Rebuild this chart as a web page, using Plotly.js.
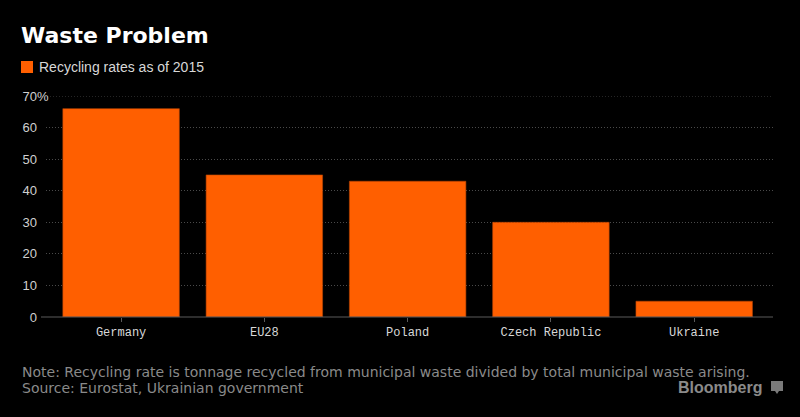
<!DOCTYPE html>
<html><head><meta charset="utf-8">
<script src="https://cdn.plot.ly/plotly-3.0.1.min.js"></script>
<style>html,body{margin:0;padding:0;background:#000}</style></head>
<body><div id="chart" style="width:800px;height:417px"></div>
<script>
const categories = ["Germany", "EU28", "Poland", "Czech Republic", "Ukraine"];
const recyclingRates = [66, 45, 43, 30, 5];
const seriesName = "Recycling rates as of 2015";
const yTickValues = [0, 10, 20, 30, 40, 50, 60, 70];
const yTickLabels = ["0", "10", "20", "30", "40", "50", "60", "70"];
const titleText = "Waste Problem";
const noteText = "Note: Recycling rate is tonnage recycled from municipal waste divided by total municipal waste arising.";
const sourceText = "Source: Eurostat, Ukrainian government";
const brandText = "Bloomberg";

const W = 800, H = 417, ML = 46, MR = 27, MT = 96, MB = 100;
const PW = W - ML - MR, PH = H - MT - MB;
const px = x => (x - ML) / PW;
const py = y => (H - MB - y) / PH;

const orange = "#ff5f00";
const trace = {
  type: "bar", x: categories, y: recyclingRates, name: seriesName,
  marker: {color: orange, line: {color: "#b84300", width: 0.6}},
  hoverinfo: "x+y", showlegend: false
};

const gridDash = "1px,2px";
const layout = {
  width: W, height: H,
  margin: {l: ML, r: MR, t: MT, b: MB, pad: 0},
  paper_bgcolor: "#000", plot_bgcolor: "#000",
  bargap: 0.187,
  title: {text: titleText, xref: "container", yref: "container", x: 21 / W, xanchor: "left",
          y: 1 - 28 / H, yanchor: "top",
          font: {family: "DejaVu Sans", size: 22, weight: 700, color: "#ffffff"}},
  xaxis: {
    type: "category", range: [-0.524, 4.55], showgrid: false, zeroline: false,
    showline: false, ticks: "outside", ticklen: 4, tickcolor: "#5a5a5a", tickwidth: 1,
    tickfont: {family: "Liberation Mono", size: 12, color: "#d8d8d8"}, fixedrange: true
  },
  yaxis: {
    range: [0, 70], tickvals: yTickValues, ticktext: yTickLabels,
    showgrid: true, gridcolor: "#4a4a4a", griddash: gridDash, gridwidth: 1,
    zeroline: false, showline: false, ticks: "",
    ticklabelstandoff: 8,
    tickfont: {family: "Liberation Sans", size: 13, color: "#d0d0d0"}, fixedrange: true
  },
  shapes: [
    {type: "line", xref: "paper", yref: "y", x0: px(47), x1: 1, y0: yTickValues[yTickValues.length - 1], y1: yTickValues[yTickValues.length - 1],
     line: {color: "#4a4a4a", width: 1, dash: gridDash}, layer: "below"},
    {type: "line", xref: "paper", yref: "paper", x0: px(41), x1: 1, y0: 0, y1: 0,
     line: {color: "#5a5a5a", width: 1}},
    {type: "rect", xref: "paper", yref: "paper", x0: px(21), x1: px(33), y0: py(73), y1: py(61),
     fillcolor: orange, line: {width: 0}},
    {type: "rect", xref: "paper", yref: "paper", x0: px(771), x1: px(783), y0: py(391), y1: py(381),
     fillcolor: "#7a7a7a", line: {width: 0}},
    {type: "path", xref: "paper", yref: "paper",
     path: `M ${px(775)} ${py(391)} L ${px(777)} ${py(394)} L ${px(779)} ${py(391)} Z`,
     fillcolor: "#7a7a7a", line: {width: 0}}
  ],
  annotations: [
    {xref: "paper", yref: "paper", x: px(37), y: py(67), xanchor: "left", yanchor: "middle",
     text: seriesName, showarrow: false, font: {family: "Liberation Sans", size: 14, color: "#d8d8d8"}},
    {xref: "paper", yref: "paper", x: px(35), y: 1, xanchor: "left", yanchor: "middle",
     text: "%", showarrow: false, font: {family: "Liberation Sans", size: 13, color: "#d0d0d0"}},
    {xref: "paper", yref: "paper", x: px(20), y: py(372), xanchor: "left", yanchor: "middle",
     text: noteText, showarrow: false, font: {family: "DejaVu Sans", size: 14, color: "#8a8a8a"}},
    {xref: "paper", yref: "paper", x: px(20), y: py(388), xanchor: "left", yanchor: "middle",
     text: sourceText, showarrow: false, font: {family: "DejaVu Sans", size: 14, color: "#8a8a8a"}},
    {xref: "paper", yref: "paper", x: px(764), y: py(387), xanchor: "right", yanchor: "middle",
     text: "<b>" + brandText + "</b>", showarrow: false, font: {family: "Liberation Sans", size: 16, color: "#8a8a8a"}}
  ]
};

Plotly.newPlot("chart", [trace], layout, {displayModeBar: false, staticPlot: true});
</script></body></html>
